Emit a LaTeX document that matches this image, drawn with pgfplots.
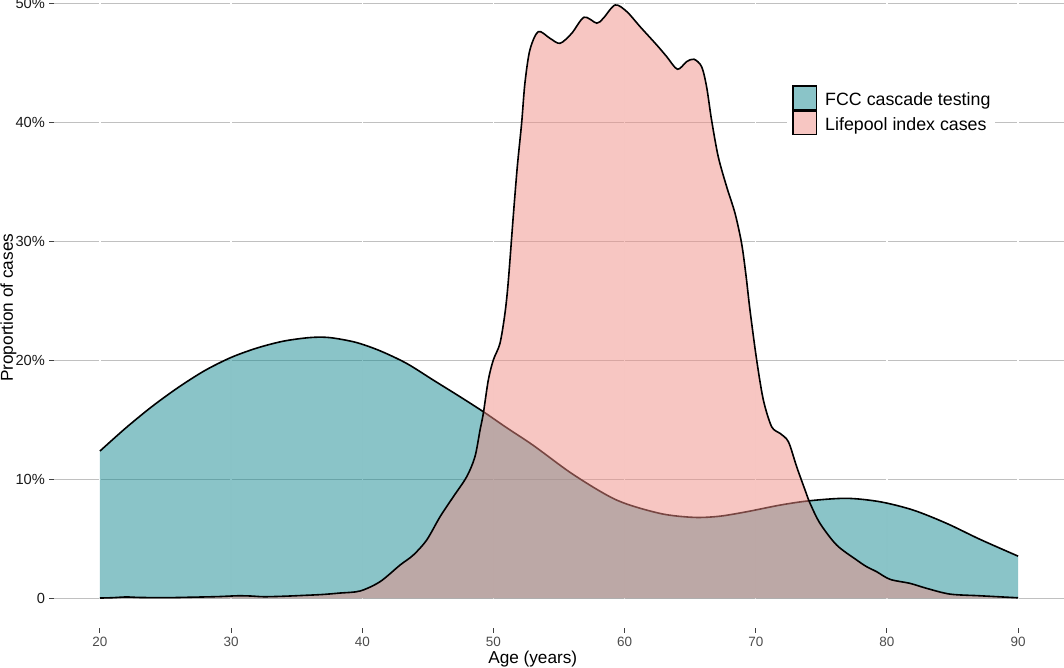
\documentclass[border=0pt]{standalone}
\usepackage{fontspec}
\setmainfont{Liberation Sans}
\usepackage{pgfplots}
\pgfplotsset{compat=1.18}
\usepackage{pgfplotstable}
\definecolor{fcc}{RGB}{21,137,145}
\definecolor{life}{RGB}{239,141,133}
\definecolor{gridc}{RGB}{192,192,192}

\pgfplotstableread{
x y
20 12.38
22 14.35
24 16.15
26 17.75
28 19.15
30 20.25
32 21.05
34 21.62
36 21.92
37.5 21.92
39.5 21.52
41.35 20.81
43.38 19.75
45.41 18.35
47.45 16.95
49.23 15.69
51.0 14.35
53.05 12.85
56.10 10.40
59.40 8.26
62.70 7.14
65.25 6.81
67.2 6.90
69.30 7.28
71.85 7.84
74.14 8.21
76.93 8.41
79.48 8.12
82.01 7.42
84.56 6.30
87.10 4.96
90 3.55
}\fcc

\pgfplotstableread{
x y
20 0.03
21 0.06
22 0.12
23 0.08
25 0.06
27 0.10
29 0.15
30.5 0.22
31.5 0.20
32.5 0.14
34 0.18
35.5 0.25
37 0.33
38.3 0.45
39.83 0.62
41.35 1.40
42.88 2.80
43.89 3.64
44.91 4.90
45.93 6.86
46.94 8.54
47.96 10.22
48.59 11.90
48.98 14.15
49.23 15.55
49.61 18.35
49.99 20.03
50.50 21.44
50.88 23.96
51.13 26.60
51.51 32.08
51.82 36.28
52.15 39.93
52.40 43.29
52.78 46.09
53.42 47.63
54.31 47.07
55.08 46.65
55.97 47.49
56.91 48.84
57.88 48.34
58.38 48.76
59.28 49.87
60.17 49.31
61.18 48.05
62.45 46.51
63.21 45.53
64.03 44.47
64.73 45.11
65.29 45.31
65.87 44.69
66.25 43.01
66.63 40.21
67.14 37.12
67.78 34.60
68.42 32.36
68.92 29.84
69.25 27.20
69.56 24.23
70.07 20.03
70.58 16.67
71.21 14.43
71.85 13.87
72.49 13.16
73.12 11.06
73.76 9.10
74.14 7.99
74.90 6.30
76.17 4.48
77.70 3.22
78.46 2.66
79.22 2.24
80.24 1.60
81.77 1.26
83.04 0.84
84.81 0.36
87.10 0.22
90 0.05
}\life

\begin{document}
\begin{tikzpicture}
\begin{axis}[
  scale only axis,
  width=757.4pt, height=471pt,
  xmin=16.5, xmax=93.5, ymin=-2.495, ymax=50.29,
  axis line style={draw=none},
  tick pos=left,
  tick align=outside,
  major tick length=3.6pt,
  tick style={black!75, line width=0.8pt},
  xtick={20,30,...,90},
  ytick={0,10,...,50},
  yticklabels={0,10\%,20\%,30\%,40\%,50\%},
  /pgf/number format/assume math mode=true,
  xticklabel style={font=\fontsize{10.1}{12}\selectfont, text=black!70, inner sep=0pt, anchor=north, yshift=-3pt},
  yticklabel style={font=\fontsize{11}{12}\selectfont, text=black!90, inner sep=0pt, anchor=east, xshift=-3pt},
  ymajorgrids,
  major grid style={gridc, line width=1.25pt},
  xlabel={Age (years)},
  xlabel style={at={(0.474,-0.04936)}, anchor=center, font=\fontsize{12.9}{15}\selectfont},
  ylabel={Proportion of cases},
  ylabel style={at={(-0.04502,0.51)}, anchor=center, font=\fontsize{12.9}{15}\selectfont},
  legend cell align=left,
  legend style={at={(0.7257,0.8726)}, anchor=north west, draw=none, fill=white,
    inner sep=3.75pt, font=\fontsize{13.35}{16}\selectfont, row sep=0pt,
    nodes={inner sep=0pt},
    /tikz/every odd column/.append style={column sep=6pt}},
]
\pgfplotsinvokeforeach{20,30,...,90}{\draw[white, line width=1.1pt] (axis cs:#1,-2.495) -- (axis cs:#1,50.29);}
\addplot[forget plot, draw=none, fill=fcc, fill opacity=0.5, smooth] table[x=x,y=y]{\fcc} \closedcycle;
\addplot[forget plot, black, line width=1.2pt, smooth] table[x=x,y=y]{\fcc};
\addplot[forget plot, draw=none, fill=life, fill opacity=0.5, smooth] table[x=x,y=y]{\life} \closedcycle;
\addplot[forget plot, black, line width=1.2pt, smooth] table[x=x,y=y]{\life};
\addlegendimage{legend image code/.code={\draw[fill=fcc!50!white, draw=black, line width=1pt] (0.5pt,-7.5pt) rectangle (18.25pt,10.25pt);}}
\addlegendentry{FCC cascade testing}
\addlegendimage{legend image code/.code={\draw[fill=life!50!white, draw=black, line width=1pt] (0.5pt,-7.5pt) rectangle (18.25pt,10.25pt);}}
\addlegendentry{Lifepool index cases}
\coordinate (SW) at (rel axis cs:0,0);
\coordinate (NE) at (rel axis cs:1,1);
\end{axis}
\pgfresetboundingbox
\useasboundingbox ([xshift=-40.5pt,yshift=-29.25pt]SW) rectangle (NE);
\end{tikzpicture}
\end{document}
